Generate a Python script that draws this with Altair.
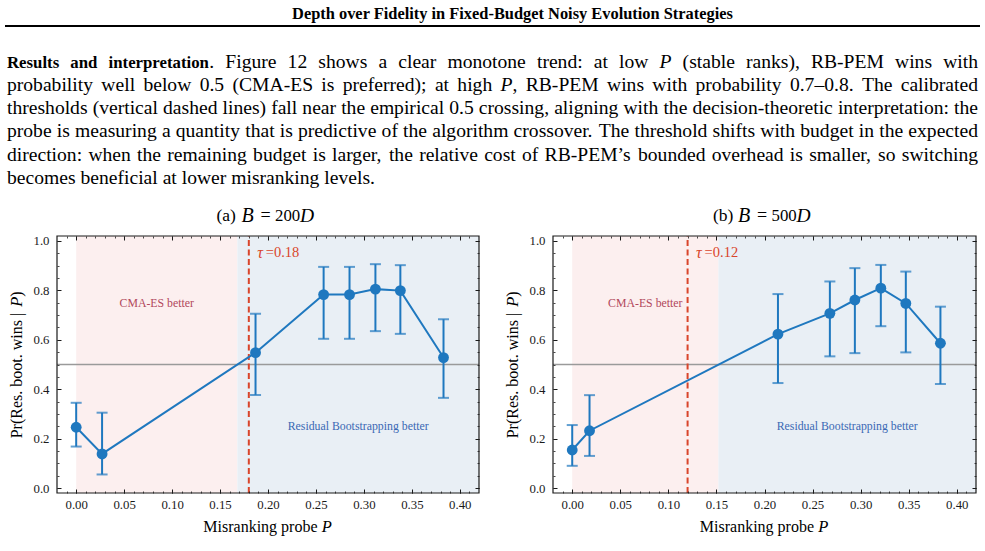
import re

import altair as alt
import pandas as pd

# ---------------------------------------------------------------------------
# Pr(residual bootstrapping beats CMA-ES | misranking probe P), with 95% CIs
# ---------------------------------------------------------------------------
probe_200 = [0.000, 0.027, 0.187, 0.258, 0.285, 0.312, 0.338, 0.383]
win_200 = [0.246, 0.138, 0.548, 0.783, 0.783, 0.805, 0.799, 0.528]
low_200 = [0.168, 0.055, 0.377, 0.604, 0.604, 0.635, 0.624, 0.365]
high_200 = [0.345, 0.305, 0.705, 0.895, 0.895, 0.906, 0.902, 0.683]
tau_200 = 0.18
cross_200 = 0.168  # empirical 0.5 crossing

probe_500 = [0.000, 0.018, 0.214, 0.268, 0.294, 0.321, 0.347, 0.383]
win_500 = [0.154, 0.232, 0.623, 0.707, 0.761, 0.809, 0.747, 0.586]
low_500 = [0.090, 0.130, 0.425, 0.533, 0.546, 0.655, 0.549, 0.421]
high_500 = [0.255, 0.376, 0.785, 0.836, 0.890, 0.903, 0.876, 0.734]
tau_500 = 0.12
cross_500 = 0.152

x_major = [0.00, 0.05, 0.10, 0.15, 0.20, 0.25, 0.30, 0.35, 0.40]
y_major = [0.0, 0.2, 0.4, 0.6, 0.8, 1.0]
x_minor = [round(-0.01 + 0.01 * i, 2) for i in range(43)]
y_minor = [round(0.05 * i, 2) for i in range(21)]

HEADER = "Depth over Fidelity in Fixed-Budget Noisy Evolution Strategies"
PARAGRAPH = [
    "**Results** **and** **interpretation**. Figure 12 shows a clear monotone trend: at low *P* (stable ranks), RB-PEM wins with",
    "probability well below 0.5 (CMA-ES is preferred); at high *P*, RB-PEM wins with probability 0.7–0.8. The calibrated",
    "thresholds (vertical dashed lines) fall near the empirical 0.5 crossing, aligning with the decision-theoretic interpretation: the",
    "probe is measuring a quantity that is predictive of the algorithm crossover. The threshold shifts with budget in the expected",
    "direction: when the remaining budget is larger, the relative cost of RB-PEM’s bounded overhead is smaller, so switching",
    "becomes beneficial at lower misranking levels.",
]

# ---------------------------------------------------------------------------
# styling / page geometry
# ---------------------------------------------------------------------------
SERIF = "Liberation Serif"
INK = "#1a1a1a"
BLUE = "#1f78bf"
RED = "#d9452b"
GRAY = "#9a9a9a"
PINK = "#fcefef"
PALE_BLUE = "#e9eff5"
CMA_TEXT = "#b2485c"
RB_TEXT = "#3a68b4"

PAGE_W, PAGE_H = 985, 551
X_DOMAIN = [-0.02, 0.42]
Y_DOMAIN = [-0.02, 1.02]
PLOT_TOP, PLOT_BOTTOM = 236, 493
PANEL_X = {"a": (57, 479), "b": (553, 976)}

BODY_SIZE = 19.6
BOLD_SIZE = 16.8

# Times-compatible advance widths (per 1000 em) for setting the paragraph
REGULAR = {" ": 250, "(": 333, ")": 333, ",": 250, "-": 333, ".": 250, ":": 278, ";": 278,
           "–": 500, "’": 333, "A": 722, "B": 667, "C": 667, "D": 722, "E": 611, "F": 556,
           "M": 889, "P": 556, "R": 667, "S": 556, "T": 611, "a": 444, "b": 500, "c": 444,
           "d": 500, "e": 444, "f": 333, "g": 500, "h": 500, "i": 278, "k": 500, "l": 278,
           "m": 778, "n": 500, "o": 500, "p": 500, "q": 500, "r": 333, "s": 389, "t": 278,
           "u": 500, "v": 500, "w": 722, "x": 500, "y": 500, "z": 444}
BOLD = {"R": 722, "a": 500, "d": 556, "e": 444, "i": 278, "l": 278, "n": 556, "o": 500,
        "p": 556, "r": 444, "s": 389, "t": 333, "u": 556}
ITALIC = {"P": 611}
TABLES = {"regular": REGULAR, "bold": BOLD, "italic": ITALIC}
SIZES = {"regular": BODY_SIZE, "bold": BOLD_SIZE, "italic": BODY_SIZE}
TOKEN = re.compile(r"\*\*(.+?)\*\*|\*(.+?)\*|([^*]+)")

ONE = pd.DataFrame({"k": [0]})


def text_width(text, style):
    table = TABLES[style]
    return sum(table.get(ch, 500) for ch in text) / 1000 * SIZES[style]


def pieces(word):
    out = []
    for bold, ital, plain in TOKEN.findall(word):
        if bold:
            out.append((bold, "bold"))
        elif ital:
            out.append((ital, "italic"))
        else:
            out.append((plain, "regular"))
    return out


def set_paragraph(lines, left, right, first_baseline, leading):
    """Justify every line but the last between left and right."""
    rows = []
    for i, line in enumerate(lines):
        words = [pieces(w) for w in line.split()]
        widths = [sum(text_width(t, s) for t, s in w) for w in words]
        if i == len(lines) - 1:
            gap = text_width(" ", "regular")
        else:
            gap = (right - left - sum(widths)) / (len(words) - 1)
        x, y = left, first_baseline + i * leading
        for word, wd in zip(words, widths):
            cx = x
            for t, s in word:
                rows.append((cx, y, t, s))
                cx += text_width(t, s)
            x += wd + gap
    return pd.DataFrame(rows, columns=["x", "y", "text", "style"])


def put(text, x, y, **mark):
    """A single text placed on the page."""
    opts = dict(font=SERIF, align="left", baseline="middle", color="black")
    opts.update(mark)
    return alt.Chart(ONE).mark_text(**opts).encode(
        x=alt.value(x), y=alt.value(y), text=alt.value(text))


def tick_axis(orient, values, size, x0, x1, labels=False):
    """Inward-pointing ticks drawn by an axis pushed inside the plot frame."""
    offset = {
        "bottom": PLOT_BOTTOM - size - PAGE_H,
        "top": -(PLOT_TOP + size),
        "left": -(x0 + size),
        "right": (x1 - size) - PAGE_W,
    }[orient]
    kw = dict(orient=orient, values=values, tickSize=size, offset=offset, domain=False,
              grid=False, title=None, zindex=3, tickColor=INK,
              tickWidth=1.0 if size > 3 else 0.8, labels=labels)
    if labels:
        horizontal = orient in ("bottom", "top")
        kw.update(format=".2f" if horizontal else ".1f", labelFont=SERIF, labelFontSize=12.8,
                  labelColor=INK, labelPadding=5 if horizontal else 8,
                  labelFlush=False, labelOverlap=False)
    return alt.Axis(**kw)


def panel_layers(key, letter, budget, probe, win, low, high, tau, cross):
    x0, x1 = PANEL_X[key]
    xs = alt.Scale(domain=X_DOMAIN, range=[x0, x1], nice=False, zero=False)
    ys = alt.Scale(domain=Y_DOMAIN, range=[PLOT_BOTTOM, PLOT_TOP], nice=False, zero=False)
    pts = pd.DataFrame({"P": probe, "win": win, "lo": low, "hi": high})

    def X(field, axis=None):
        return alt.X(field, type="quantitative", scale=xs, axis=axis)

    def Y(field, axis=None):
        return alt.Y(field, type="quantitative", scale=ys, axis=axis)

    def box(a, b):
        return pd.DataFrame({"a": [a], "b": [b], "lo": [Y_DOMAIN[0]], "hi": [Y_DOMAIN[1]]})

    cma_span = alt.Chart(box(0.0, cross)).mark_rect(color=PINK).encode(
        x=X("a"), x2="b", y=Y("lo"), y2="hi")
    rb_span = alt.Chart(box(cross, X_DOMAIN[1])).mark_rect(color=PALE_BLUE).encode(
        x=X("a"), x2="b", y=Y("lo"), y2="hi")

    half_df = pd.DataFrame({"a": [X_DOMAIN[0]], "b": [X_DOMAIN[1]], "level": [0.5]})
    half = alt.Chart(half_df).mark_rule(color=GRAY, strokeWidth=1.3).encode(
        x=X("a"), x2="b", y=Y("level"))
    tau_df = pd.DataFrame({"tau": [tau], "lo": [Y_DOMAIN[0]], "hi": [Y_DOMAIN[1]],
                           "ly": [0.95], "sym": ["τ"], "val": [f"={tau:.2f}"]})
    thresh = alt.Chart(tau_df).mark_rule(color=RED, strokeWidth=2, strokeDash=[6, 3.5]).encode(
        x=X("tau"), y=Y("lo"), y2="hi")

    line = alt.Chart(pts).mark_line(color=BLUE, strokeWidth=2).encode(x=X("P"), y=Y("win"))
    bars = alt.Chart(pts).mark_rule(color=BLUE, strokeWidth=2).encode(x=X("P"), y=Y("lo"), y2="hi")
    caps = alt.Chart(pts).transform_fold(["lo", "hi"], as_=["end", "val"]).mark_tick(
        color=BLUE, orient="horizontal", size=11, thickness=2).encode(x=X("P"), y=Y("val"))
    dots = alt.Chart(pts).mark_circle(color=BLUE, opacity=1, size=118).encode(x=X("P"), y=Y("win"))

    lab_df = pd.DataFrame({"x": [cross / 2, (cross + X_DOMAIN[1]) / 2], "y": [0.75, 0.25],
                           "t": ["CMA-ES better", "Residual Bootstrapping better"]})
    cma_lab = alt.Chart(lab_df.iloc[[0]]).mark_text(font=SERIF, fontSize=11.8, color=CMA_TEXT).encode(
        x=X("x"), y=Y("y"), text="t:N")
    rb_lab = alt.Chart(lab_df.iloc[[1]]).mark_text(font=SERIF, fontSize=11.8, color=RB_TEXT).encode(
        x=X("x"), y=Y("y"), text="t:N")
    tau_sym = alt.Chart(tau_df).mark_text(font=SERIF, fontSize=16, fontStyle="italic", color=RED,
                                          align="left", dx=8.5).encode(x=X("tau"), y=Y("ly"), text="sym:N")
    tau_val = alt.Chart(tau_df).mark_text(font=SERIF, fontSize=14.5, color=RED,
                                          align="left", dx=17).encode(x=X("tau"), y=Y("ly"), text="val:N")

    frame_df = pd.DataFrame({"a": [X_DOMAIN[0]], "b": [X_DOMAIN[1]],
                             "lo": [Y_DOMAIN[0]], "hi": [Y_DOMAIN[1]]})
    frame = alt.Chart(frame_df).mark_rect(fill="transparent", stroke=INK, strokeWidth=1.2).encode(
        x=X("a"), x2="b", y=Y("lo"), y2="hi")

    # invisible carriers for inward major/minor ticks on all four sides
    def carrier(ax, ay):
        return alt.Chart(pts).mark_point(opacity=0).encode(x=X("P", ax), y=Y("win", ay))

    axes = [
        carrier(tick_axis("bottom", x_major, 4, x0, x1, labels=True),
                tick_axis("left", y_major, 4, x0, x1, labels=True)),
        carrier(tick_axis("top", x_major, 4, x0, x1), tick_axis("right", y_major, 4, x0, x1)),
        carrier(tick_axis("bottom", x_minor, 2, x0, x1), tick_axis("left", y_minor, 2, x0, x1)),
        carrier(tick_axis("top", x_minor, 2, x0, x1), tick_axis("right", y_minor, 2, x0, x1)),
    ]

    c = (x0 + x1) / 2
    ty = PLOT_TOP - 20
    xt = PLOT_BOTTOM + 33.7
    yx = x0 - 40
    titles = [
        put(f"({letter})", c - 51.5, ty, fontSize=17.5),
        put("B", c - 26.5, ty, fontSize=20, fontStyle="italic"),
        put("=", c - 7.5, ty, fontSize=18),
        put(budget, c + 7, ty, fontSize=16.8),
        put("D", c + 32, ty, fontSize=19.5, fontStyle="italic"),
        put("Misranking probe", c - 64.7, xt, fontSize=16),
        put("P", c + 53.7, xt, fontSize=16.5, fontStyle="italic"),
        put("Pr(Res. boot. wins |", yx, PLOT_TOP + 202.3, fontSize=16, angle=270),
        put("P", yx, PLOT_TOP + 70.7, fontSize=16.5, angle=270, fontStyle="italic"),
        put(")", yx, PLOT_TOP + 60.7, fontSize=16, angle=270),
    ]

    return [cma_span, rb_span, half, thresh, line, bars, caps, dots,
            cma_lab, rb_lab, tau_sym, tau_val, frame] + axes + titles


# ---------------------------------------------------------------------------
# page header and justified paragraph
# ---------------------------------------------------------------------------
body = set_paragraph(PARAGRAPH, 7, 978, 67.5, 23.3)
page_x = alt.Scale(domain=[0, PAGE_W], range=[0, PAGE_W], nice=False, zero=False)
page_y = alt.Scale(domain=[0, PAGE_H], range=[0, PAGE_H], nice=False, zero=False)


def body_layer(style, **mark):
    return alt.Chart(body).transform_filter(alt.datum.style == style).mark_text(
        font=SERIF, fontSize=SIZES[style], align="left", baseline="alphabetic", color="black",
        **mark).encode(
        x=alt.X("x:Q", scale=page_x, axis=None),
        y=alt.Y("y:Q", scale=page_y, axis=None),
        text="text:N")


page = [
    put(HEADER, 512.5, 14, fontSize=16.4, fontWeight="bold", align="center"),
    alt.Chart(ONE).mark_rule(color="black", strokeWidth=2).encode(
        x=alt.value(5), x2=alt.value(980), y=alt.value(26)),
    body_layer("regular"),
    body_layer("bold", fontWeight="bold"),
    body_layer("italic", fontStyle="italic"),
]

layers = (page
          + panel_layers("a", "a", "200", probe_200, win_200, low_200, high_200, tau_200, cross_200)
          + panel_layers("b", "b", "500", probe_500, win_500, low_500, high_500, tau_500, cross_500))

chart = alt.layer(*layers).resolve_scale(x="independent", y="independent").properties(
    width=PAGE_W, height=PAGE_H, padding=0, background="white",
    autosize=alt.AutoSizeParams(type="none"),
).configure_view(stroke="transparent")

chart.save("out.html", embed_options={"renderer": "svg", "actions": False})
